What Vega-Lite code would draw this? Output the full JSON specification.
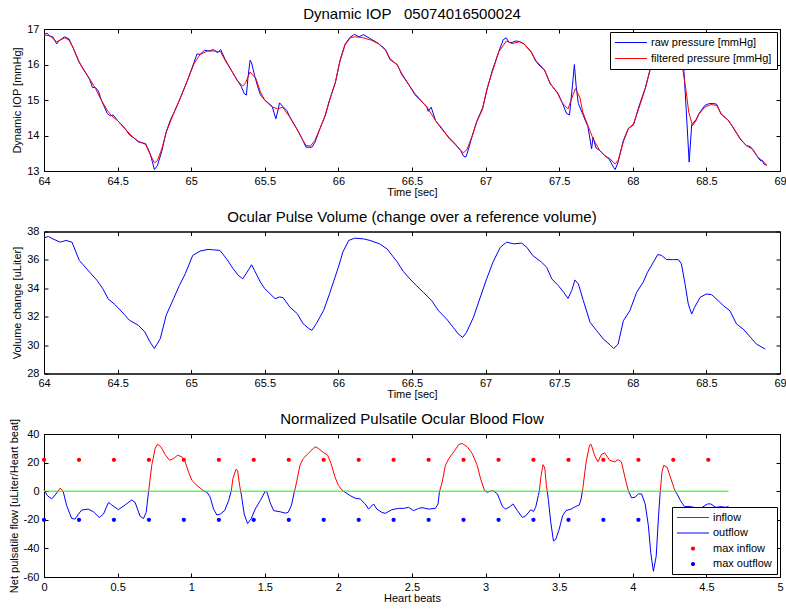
{
"$schema": "https://vega.github.io/schema/vega-lite/v6.json",
"background": "white",
"padding": {"left": 7, "top": 6, "right": 2, "bottom": 2},
"spacing": 60.5,
"bounds": "flush",
"resolve": {"scale": {"color": "independent", "shape": "independent"}},
"config": {
 "font": "Liberation Sans",
 "view": {"stroke": "black"},
 "axis": {"domainColor": "black", "tickColor": "black", "tickSize": -4, "labelColor": "black", "labelFontSize": 11, "titleFontSize": 11, "titleFontWeight": "normal", "titleColor": "black", "grid": false, "labelFont": "Liberation Sans", "titleFont": "Liberation Sans", "labelOverlap": false, "labelFlush": false, "labelExpr": "datum.value < 0 ? '-' + format(-datum.value, '~g') : format(datum.value, '~g')"},
 "axisX": {"labelPadding": 8, "titlePadding": 0},
 "axisY": {"labelPadding": 9, "titlePadding": 4},
 "title": {"fontSize": 15, "fontWeight": "normal", "font": "Liberation Sans", "color": "black", "offset": 1},
 "legend": {"strokeColor": "black", "fillColor": "white", "labelFontSize": 11, "labelFont": "Liberation Sans", "labelColor": "black", "symbolOpacity": 1, "cornerRadius": 0, "labelLimit": 300, "title": null, "symbolSize": 100, "symbolStrokeWidth": 1, "symbolOffset": 10.5, "labelOffset": 14.5}
},
"datasets": {
"raw": [{"t":64.00,"p":16.85},{"t":64.02,"p":16.88},{"t":64.04,"p":16.8},{"t":64.06,"p":16.78},{"t":64.086,"p":16.58},{"t":64.10,"p":16.66},{"t":64.14,"p":16.78},{"t":64.17,"p":16.72},{"t":64.20,"p":16.45},{"t":64.234,"p":16.1},{"t":64.25,"p":15.98},{"t":64.27,"p":15.86},{"t":64.31,"p":15.58},{"t":64.33,"p":15.35},{"t":64.35,"p":15.35},{"t":64.37,"p":15.25},{"t":64.39,"p":14.99},{"t":64.43,"p":14.62},{"t":64.45,"p":14.55},{"t":64.47,"p":14.58},{"t":64.50,"p":14.42},{"t":64.55,"p":14.2},{"t":64.58,"p":14.02},{"t":64.62,"p":13.9},{"t":64.64,"p":13.82},{"t":64.69,"p":13.77},{"t":64.72,"p":13.5},{"t":64.74,"p":13.2},{"t":64.75,"p":13.04},{"t":64.77,"p":13.15},{"t":64.80,"p":13.55},{"t":64.83,"p":14.1},{"t":64.86,"p":14.45},{"t":64.88,"p":14.62},{"t":64.92,"p":15.0},{"t":64.97,"p":15.5},{"t":65.02,"p":16.07},{"t":65.04,"p":16.3},{"t":65.06,"p":16.28},{"t":65.09,"p":16.4},{"t":65.12,"p":16.38},{"t":65.15,"p":16.42},{"t":65.18,"p":16.33},{"t":65.20,"p":16.42},{"t":65.23,"p":16.15},{"t":65.28,"p":15.78},{"t":65.31,"p":15.58},{"t":65.34,"p":15.38},{"t":65.36,"p":15.18},{"t":65.375,"p":15.14},{"t":65.385,"p":15.6},{"t":65.40,"p":16.12},{"t":65.41,"p":16.05},{"t":65.43,"p":15.7},{"t":65.45,"p":15.4},{"t":65.47,"p":15.15},{"t":65.50,"p":15.0},{"t":65.55,"p":14.82},{"t":65.575,"p":14.47},{"t":65.59,"p":14.72},{"t":65.60,"p":14.92},{"t":65.62,"p":14.83},{"t":65.65,"p":14.7},{"t":65.67,"p":14.52},{"t":65.73,"p":14.1},{"t":65.76,"p":13.85},{"t":65.78,"p":13.67},{"t":65.82,"p":13.67},{"t":65.84,"p":13.8},{"t":65.875,"p":14.2},{"t":65.91,"p":14.55},{"t":65.94,"p":15.0},{"t":65.98,"p":15.5},{"t":66.01,"p":16.1},{"t":66.045,"p":16.57},{"t":66.08,"p":16.77},{"t":66.11,"p":16.85},{"t":66.14,"p":16.78},{"t":66.17,"p":16.84},{"t":66.22,"p":16.72},{"t":66.27,"p":16.6},{"t":66.32,"p":16.42},{"t":66.35,"p":16.14},{"t":66.40,"p":16.0},{"t":66.43,"p":15.72},{"t":66.48,"p":15.42},{"t":66.52,"p":15.15},{"t":66.57,"p":14.94},{"t":66.60,"p":14.82},{"t":66.61,"p":14.68},{"t":66.63,"p":14.8},{"t":66.66,"p":14.42},{"t":66.70,"p":14.22},{"t":66.75,"p":13.93},{"t":66.795,"p":13.74},{"t":66.83,"p":13.58},{"t":66.85,"p":13.42},{"t":66.865,"p":13.39},{"t":66.875,"p":13.5},{"t":66.91,"p":14.0},{"t":66.94,"p":14.4},{"t":66.98,"p":14.78},{"t":67.01,"p":15.3},{"t":67.045,"p":15.82},{"t":67.09,"p":16.37},{"t":67.12,"p":16.7},{"t":67.14,"p":16.75},{"t":67.16,"p":16.62},{"t":67.18,"p":16.62},{"t":67.20,"p":16.66},{"t":67.23,"p":16.65},{"t":67.26,"p":16.58},{"t":67.31,"p":16.35},{"t":67.34,"p":16.1},{"t":67.37,"p":15.95},{"t":67.40,"p":15.85},{"t":67.44,"p":15.45},{"t":67.49,"p":15.2},{"t":67.52,"p":14.93},{"t":67.55,"p":14.62},{"t":67.57,"p":14.58},{"t":67.59,"p":15.4},{"t":67.603,"p":16.0},{"t":67.615,"p":15.4},{"t":67.63,"p":14.9},{"t":67.66,"p":14.6},{"t":67.695,"p":14.25},{"t":67.72,"p":13.62},{"t":67.73,"p":13.95},{"t":67.75,"p":13.65},{"t":67.775,"p":13.58},{"t":67.81,"p":13.43},{"t":67.84,"p":13.33},{"t":67.87,"p":13.1},{"t":67.88,"p":13.04},{"t":67.90,"p":13.25},{"t":67.935,"p":13.85},{"t":67.97,"p":14.2},{"t":68.005,"p":14.3},{"t":68.04,"p":14.8},{"t":68.085,"p":15.34},{"t":68.12,"p":15.9},{"t":68.16,"p":16.38},{"t":68.20,"p":16.6},{"t":68.26,"p":16.55},{"t":68.32,"p":16.5},{"t":68.348,"p":15.8},{"t":68.383,"p":13.25},{"t":68.40,"p":14.3},{"t":68.43,"p":14.45},{"t":68.45,"p":14.62},{"t":68.49,"p":14.85},{"t":68.52,"p":14.9},{"t":68.55,"p":14.9},{"t":68.57,"p":14.88},{"t":68.60,"p":14.6},{"t":68.63,"p":14.5},{"t":68.65,"p":14.42},{"t":68.68,"p":14.23},{"t":68.73,"p":13.9},{"t":68.77,"p":13.72},{"t":68.80,"p":13.68},{"t":68.82,"p":13.58},{"t":68.85,"p":13.38},{"t":68.87,"p":13.28},{"t":68.88,"p":13.3},{"t":68.89,"p":13.2},{"t":68.91,"p":13.16}],
"filt": [{"t":64.00,"p":16.83},{"t":64.04,"p":16.81},{"t":64.086,"p":16.64},{"t":64.11,"p":16.69},{"t":64.14,"p":16.75},{"t":64.17,"p":16.69},{"t":64.20,"p":16.45},{"t":64.234,"p":16.12},{"t":64.27,"p":15.84},{"t":64.31,"p":15.6},{"t":64.35,"p":15.32},{"t":64.39,"p":14.99},{"t":64.43,"p":14.71},{"t":64.46,"p":14.55},{"t":64.50,"p":14.42},{"t":64.55,"p":14.19},{"t":64.60,"p":13.97},{"t":64.64,"p":13.84},{"t":64.69,"p":13.75},{"t":64.72,"p":13.48},{"t":64.75,"p":13.23},{"t":64.77,"p":13.29},{"t":64.80,"p":13.62},{"t":64.83,"p":14.09},{"t":64.88,"p":14.61},{"t":64.92,"p":14.99},{"t":64.97,"p":15.51},{"t":65.02,"p":16.03},{"t":65.06,"p":16.28},{"t":65.11,"p":16.38},{"t":65.15,"p":16.38},{"t":65.20,"p":16.36},{"t":65.23,"p":16.12},{"t":65.28,"p":15.79},{"t":65.31,"p":15.56},{"t":65.35,"p":15.39},{"t":65.37,"p":15.49},{"t":65.40,"p":15.79},{"t":65.44,"p":15.6},{"t":65.47,"p":15.23},{"t":65.50,"p":14.99},{"t":65.55,"p":14.8},{"t":65.59,"p":14.75},{"t":65.62,"p":14.8},{"t":65.67,"p":14.52},{"t":65.73,"p":14.09},{"t":65.76,"p":13.86},{"t":65.78,"p":13.72},{"t":65.81,"p":13.7},{"t":65.84,"p":13.86},{"t":65.875,"p":14.19},{"t":65.91,"p":14.57},{"t":65.94,"p":14.99},{"t":65.98,"p":15.51},{"t":66.01,"p":16.08},{"t":66.045,"p":16.55},{"t":66.08,"p":16.75},{"t":66.11,"p":16.78},{"t":66.16,"p":16.76},{"t":66.22,"p":16.69},{"t":66.27,"p":16.59},{"t":66.32,"p":16.41},{"t":66.35,"p":16.17},{"t":66.40,"p":15.98},{"t":66.43,"p":15.75},{"t":66.48,"p":15.42},{"t":66.52,"p":15.18},{"t":66.57,"p":14.94},{"t":66.61,"p":14.75},{"t":66.66,"p":14.42},{"t":66.70,"p":14.19},{"t":66.75,"p":13.95},{"t":66.795,"p":13.76},{"t":66.83,"p":13.58},{"t":66.85,"p":13.51},{"t":66.875,"p":13.62},{"t":66.91,"p":14.0},{"t":66.94,"p":14.38},{"t":66.98,"p":14.75},{"t":67.01,"p":15.32},{"t":67.045,"p":15.79},{"t":67.09,"p":16.36},{"t":67.14,"p":16.66},{"t":67.18,"p":16.59},{"t":67.23,"p":16.64},{"t":67.26,"p":16.59},{"t":67.31,"p":16.36},{"t":67.34,"p":16.12},{"t":67.40,"p":15.84},{"t":67.44,"p":15.46},{"t":67.49,"p":15.18},{"t":67.52,"p":14.92},{"t":67.56,"p":14.75},{"t":67.58,"p":14.99},{"t":67.61,"p":15.32},{"t":67.64,"p":15.08},{"t":67.66,"p":14.66},{"t":67.695,"p":14.28},{"t":67.73,"p":13.91},{"t":67.775,"p":13.58},{"t":67.81,"p":13.43},{"t":67.84,"p":13.36},{"t":67.88,"p":13.2},{"t":67.90,"p":13.29},{"t":67.935,"p":13.81},{"t":67.97,"p":14.19},{"t":68.005,"p":14.33},{"t":68.04,"p":14.75},{"t":68.085,"p":15.32},{"t":68.12,"p":15.89},{"t":68.16,"p":16.35},{"t":68.20,"p":16.55},{"t":68.26,"p":16.5},{"t":68.31,"p":16.45},{"t":68.337,"p":15.93},{"t":68.36,"p":15.32},{"t":68.38,"p":14.66},{"t":68.405,"p":14.28},{"t":68.43,"p":14.42},{"t":68.45,"p":14.61},{"t":68.49,"p":14.8},{"t":68.53,"p":14.87},{"t":68.57,"p":14.85},{"t":68.60,"p":14.61},{"t":68.65,"p":14.42},{"t":68.68,"p":14.24},{"t":68.73,"p":13.91},{"t":68.77,"p":13.72},{"t":68.81,"p":13.62},{"t":68.85,"p":13.39},{"t":68.89,"p":13.25},{"t":68.91,"p":13.17}],
"vol": [{"t":64.00,"v":37.55},{"t":64.03,"v":37.65},{"t":64.06,"v":37.48},{"t":64.11,"v":37.25},{"t":64.15,"v":37.37},{"t":64.19,"v":37.25},{"t":64.24,"v":35.96},{"t":64.31,"v":35.14},{"t":64.36,"v":34.56},{"t":64.40,"v":33.97},{"t":64.435,"v":33.27},{"t":64.48,"v":32.87},{"t":64.53,"v":32.33},{"t":64.58,"v":31.75},{"t":64.64,"v":31.4},{"t":64.685,"v":30.93},{"t":64.72,"v":30.22},{"t":64.75,"v":29.76},{"t":64.79,"v":30.46},{"t":64.83,"v":32.1},{"t":64.88,"v":33.27},{"t":64.92,"v":34.21},{"t":64.96,"v":35.03},{"t":65.01,"v":36.31},{"t":65.06,"v":36.62},{"t":65.115,"v":36.74},{"t":65.15,"v":36.71},{"t":65.195,"v":36.67},{"t":65.24,"v":36.08},{"t":65.285,"v":35.38},{"t":65.32,"v":34.91},{"t":65.35,"v":34.67},{"t":65.39,"v":35.3},{"t":65.41,"v":35.66},{"t":65.43,"v":35.26},{"t":65.47,"v":34.44},{"t":65.50,"v":33.97},{"t":65.535,"v":33.62},{"t":65.57,"v":33.27},{"t":65.60,"v":33.39},{"t":65.625,"v":33.34},{"t":65.67,"v":32.68},{"t":65.72,"v":32.22},{"t":65.76,"v":31.51},{"t":65.80,"v":31.16},{"t":65.82,"v":31.04},{"t":65.85,"v":31.51},{"t":65.90,"v":32.45},{"t":65.94,"v":33.62},{"t":65.97,"v":34.56},{"t":66.00,"v":35.49},{"t":66.03,"v":36.55},{"t":66.07,"v":37.37},{"t":66.11,"v":37.53},{"t":66.17,"v":37.48},{"t":66.215,"v":37.37},{"t":66.28,"v":37.13},{"t":66.33,"v":36.78},{"t":66.37,"v":36.25},{"t":66.40,"v":35.85},{"t":66.44,"v":35.2},{"t":66.486,"v":34.66},{"t":66.53,"v":34.19},{"t":66.577,"v":33.72},{"t":66.634,"v":33.13},{"t":66.68,"v":32.42},{"t":66.735,"v":31.84},{"t":66.78,"v":31.25},{"t":66.815,"v":30.78},{"t":66.844,"v":30.54},{"t":66.87,"v":30.89},{"t":66.917,"v":31.95},{"t":66.96,"v":33.25},{"t":67.007,"v":34.66},{"t":67.05,"v":35.84},{"t":67.10,"v":36.89},{"t":67.143,"v":37.25},{"t":67.19,"v":37.13},{"t":67.245,"v":37.18},{"t":67.28,"v":36.89},{"t":67.32,"v":36.31},{"t":67.38,"v":35.84},{"t":67.415,"v":35.48},{"t":67.45,"v":34.66},{"t":67.494,"v":34.19},{"t":67.53,"v":33.72},{"t":67.56,"v":33.29},{"t":67.585,"v":33.84},{"t":67.607,"v":34.59},{"t":67.63,"v":34.31},{"t":67.664,"v":33.13},{"t":67.71,"v":31.6},{"t":67.755,"v":31.01},{"t":67.80,"v":30.42},{"t":67.845,"v":30.02},{"t":67.87,"v":29.76},{"t":67.90,"v":30.07},{"t":67.936,"v":31.72},{"t":67.98,"v":32.42},{"t":68.026,"v":33.72},{"t":68.07,"v":34.42},{"t":68.10,"v":35.13},{"t":68.14,"v":35.84},{"t":68.17,"v":36.38},{"t":68.196,"v":36.31},{"t":68.23,"v":36.02},{"t":68.275,"v":36.02},{"t":68.31,"v":36.02},{"t":68.33,"v":35.72},{"t":68.355,"v":34.31},{"t":68.377,"v":32.89},{"t":68.40,"v":32.19},{"t":68.42,"v":32.66},{"t":68.457,"v":33.36},{"t":68.50,"v":33.6},{"t":68.536,"v":33.55},{"t":68.58,"v":33.13},{"t":68.615,"v":32.78},{"t":68.66,"v":32.42},{"t":68.705,"v":31.48},{"t":68.75,"v":31.13},{"t":68.80,"v":30.54},{"t":68.84,"v":30.07},{"t":68.90,"v":29.72}],
"flow": [{"b":0,"i":1.2,"o":null},{"b":0.006,"i":0,"o":0},{"b":0.023,"i":null,"o":-3.1},{"b":0.052,"i":null,"o":-5.4},{"b":0.082,"i":null,"o":-1.9},{"b":0.095,"i":0,"o":0},{"b":0.109,"i":2.1,"o":null},{"b":0.127,"i":0.5,"o":null},{"b":0.13,"i":0,"o":0},{"b":0.154,"i":null,"o":-10.1},{"b":0.188,"i":null,"o":-19.1},{"b":0.211,"i":null,"o":-19.5},{"b":0.234,"i":null,"o":-16},{"b":0.256,"i":null,"o":-13.2},{"b":0.3,"i":null,"o":-12.5},{"b":0.336,"i":null,"o":-14.4},{"b":0.376,"i":null,"o":-18.4},{"b":0.404,"i":null,"o":-16},{"b":0.438,"i":null,"o":-7.8},{"b":0.46,"i":null,"o":-9.6},{"b":0.506,"i":null,"o":-12.9},{"b":0.551,"i":null,"o":-9.6},{"b":0.596,"i":null,"o":-6.1},{"b":0.619,"i":null,"o":-7.8},{"b":0.653,"i":null,"o":-17.6},{"b":0.676,"i":null,"o":-19.1},{"b":0.694,"i":null,"o":-14.8},{"b":0.71,"i":null,"o":-0.7},{"b":0.711,"i":0,"o":0},{"b":0.732,"i":18.1,"o":null},{"b":0.755,"i":29.9,"o":null},{"b":0.771,"i":32.9,"o":null},{"b":0.794,"i":31.1,"o":null},{"b":0.823,"i":25.6,"o":null},{"b":0.853,"i":21.6,"o":null},{"b":0.88,"i":22.8,"o":null},{"b":0.907,"i":25.2,"o":null},{"b":0.937,"i":24,"o":null},{"b":0.959,"i":20.5,"o":null},{"b":0.982,"i":13.4,"o":null},{"b":1.005,"i":7.5,"o":null},{"b":1.039,"i":4,"o":null},{"b":1.073,"i":1.2,"o":null},{"b":1.088,"i":0,"o":0},{"b":1.107,"i":null,"o":-0.7},{"b":1.129,"i":null,"o":-4.2},{"b":1.152,"i":null,"o":-12.5},{"b":1.175,"i":null,"o":-16.7},{"b":1.197,"i":null,"o":-16},{"b":1.227,"i":null,"o":-13.6},{"b":1.254,"i":null,"o":-6.6},{"b":1.27,"i":null,"o":-0.7},{"b":1.272,"i":0,"o":0},{"b":1.283,"i":8.7,"o":null},{"b":1.304,"i":15.3,"o":null},{"b":1.315,"i":14.6,"o":null},{"b":1.329,"i":4,"o":null},{"b":1.336,"i":0,"o":0},{"b":1.34,"i":null,"o":-1.9},{"b":1.36,"i":null,"o":-16},{"b":1.383,"i":null,"o":-22.6},{"b":1.406,"i":null,"o":-19.5},{"b":1.435,"i":null,"o":-12.5},{"b":1.469,"i":null,"o":-6.6},{"b":1.503,"i":0,"o":0},{"b":1.515,"i":null,"o":-0.7},{"b":1.537,"i":null,"o":-8.2},{"b":1.56,"i":null,"o":-13.6},{"b":1.605,"i":null,"o":-14.4},{"b":1.64,"i":null,"o":-15.3},{"b":1.659,"i":null,"o":-14.8},{"b":1.682,"i":null,"o":-9.6},{"b":1.7,"i":null,"o":-0.7},{"b":1.702,"i":0,"o":0},{"b":1.716,"i":6.4,"o":null},{"b":1.739,"i":18.1,"o":null},{"b":1.761,"i":22.8,"o":null},{"b":1.795,"i":26.4,"o":null},{"b":1.841,"i":31.1,"o":null},{"b":1.864,"i":29.9,"o":null},{"b":1.898,"i":27.1,"o":null},{"b":1.927,"i":25.2,"o":null},{"b":1.95,"i":19.3,"o":null},{"b":1.977,"i":9.9,"o":null},{"b":2.0,"i":4,"o":null},{"b":2.027,"i":0.5,"o":null},{"b":2.035,"i":0,"o":0},{"b":2.045,"i":null,"o":-0.7},{"b":2.08,"i":null,"o":-3.1},{"b":2.114,"i":null,"o":-4.9},{"b":2.148,"i":null,"o":-5.4},{"b":2.182,"i":null,"o":-8.9},{"b":2.205,"i":null,"o":-12.5},{"b":2.239,"i":null,"o":-8.9},{"b":2.261,"i":null,"o":-12.5},{"b":2.295,"i":null,"o":-14.8},{"b":2.318,"i":null,"o":-15.5},{"b":2.364,"i":null,"o":-12.9},{"b":2.409,"i":null,"o":-12},{"b":2.443,"i":null,"o":-12},{"b":2.477,"i":null,"o":-11.3},{"b":2.511,"i":null,"o":-13.6},{"b":2.545,"i":null,"o":-12},{"b":2.568,"i":null,"o":-11.5},{"b":2.614,"i":null,"o":-12.5},{"b":2.659,"i":null,"o":-12},{"b":2.677,"i":null,"o":-8.9},{"b":2.686,"i":null,"o":-0.7},{"b":2.688,"i":0,"o":0},{"b":2.705,"i":6.4,"o":null},{"b":2.727,"i":18.1,"o":null},{"b":2.75,"i":22.8,"o":null},{"b":2.784,"i":27.5,"o":null},{"b":2.818,"i":32.7,"o":null},{"b":2.841,"i":33.4,"o":null},{"b":2.875,"i":31.1,"o":null},{"b":2.909,"i":26.4,"o":null},{"b":2.943,"i":18.1,"o":null},{"b":2.966,"i":8.7,"o":null},{"b":2.989,"i":1.6,"o":null},{"b":2.997,"i":0,"o":0},{"b":3.011,"i":null,"o":-0.7},{"b":3.027,"i":null,"o":-0.2},{"b":3.033,"i":0,"o":0},{"b":3.04,"i":0.3,"o":null},{"b":3.057,"i":0,"o":0},{"b":3.08,"i":null,"o":-1.9},{"b":3.114,"i":null,"o":-10.6},{"b":3.136,"i":null,"o":-12.5},{"b":3.159,"i":null,"o":-11.3},{"b":3.186,"i":null,"o":-8.9},{"b":3.216,"i":null,"o":-13.6},{"b":3.25,"i":null,"o":-18.4},{"b":3.273,"i":null,"o":-17.2},{"b":3.307,"i":null,"o":-12.9},{"b":3.325,"i":null,"o":-14.2},{"b":3.34,"i":null,"o":-11.3},{"b":3.358,"i":null,"o":-3.1},{"b":3.365,"i":0,"o":0},{"b":3.374,"i":8.7,"o":null},{"b":3.39,"i":18.6,"o":null},{"b":3.402,"i":16.2,"o":null},{"b":3.413,"i":4,"o":null},{"b":3.419,"i":0,"o":0},{"b":3.427,"i":null,"o":-6.6},{"b":3.443,"i":null,"o":-21.9},{"b":3.461,"i":null,"o":-34.8},{"b":3.477,"i":null,"o":-33.6},{"b":3.5,"i":null,"o":-26.6},{"b":3.523,"i":null,"o":-17.2},{"b":3.546,"i":null,"o":-13.6},{"b":3.58,"i":null,"o":-12.5},{"b":3.614,"i":null,"o":-10.6},{"b":3.637,"i":null,"o":-9.6},{"b":3.649,"i":null,"o":-5.4},{"b":3.657,"i":0,"o":0},{"b":3.66,"i":1.6,"o":null},{"b":3.683,"i":20.5,"o":null},{"b":3.706,"i":32.2,"o":null},{"b":3.717,"i":32.7,"o":null},{"b":3.74,"i":25.2,"o":null},{"b":3.763,"i":20.5,"o":null},{"b":3.786,"i":25.6,"o":null},{"b":3.809,"i":26.8,"o":null},{"b":3.843,"i":21.6,"o":null},{"b":3.878,"i":20.5,"o":null},{"b":3.9,"i":22.1,"o":null},{"b":3.923,"i":20.5,"o":null},{"b":3.946,"i":9.9,"o":null},{"b":3.969,"i":0.5,"o":null},{"b":3.971,"i":0,"o":0},{"b":3.992,"i":null,"o":-4.7},{"b":4.015,"i":null,"o":-4.2},{"b":4.038,"i":null,"o":-1.9},{"b":4.06,"i":null,"o":-1.9},{"b":4.084,"i":null,"o":-8.9},{"b":4.106,"i":null,"o":-24.2},{"b":4.122,"i":null,"o":-43.1},{"b":4.14,"i":null,"o":-56},{"b":4.159,"i":null,"o":-45.4},{"b":4.175,"i":null,"o":-17.2},{"b":4.186,"i":null,"o":-0.7},{"b":4.187,"i":0,"o":0},{"b":4.198,"i":13.4,"o":null},{"b":4.21,"i":18.1,"o":null},{"b":4.232,"i":16.9,"o":null},{"b":4.255,"i":9.9,"o":null},{"b":4.278,"i":2.8,"o":null},{"b":4.288,"i":0,"o":0},{"b":4.3,"i":null,"o":-1.9},{"b":4.324,"i":null,"o":-6.6},{"b":4.351,"i":null,"o":-10.8},{"b":4.381,"i":null,"o":-10.6},{"b":4.415,"i":null,"o":-11.3},{"b":4.461,"i":null,"o":-12},{"b":4.507,"i":null,"o":-8.9},{"b":4.53,"i":null,"o":-8.9},{"b":4.564,"i":null,"o":-11.3},{"b":4.6,"i":null,"o":-10.8},{"b":4.633,"i":null,"o":-11.3},{"b":4.65,"i":null,"o":-10.6}],
"zero": [{"b":0,"z":0},{"b":4.65,"z":0}],
"maxin": [{"b":0,"m":22},{"b":0.238,"m":22},{"b":0.475,"m":22},{"b":0.713,"m":22},{"b":0.95,"m":22},{"b":1.188,"m":22},{"b":1.425,"m":22},{"b":1.663,"m":22},{"b":1.9,"m":22},{"b":2.138,"m":22},{"b":2.375,"m":22},{"b":2.613,"m":22},{"b":2.85,"m":22},{"b":3.088,"m":22},{"b":3.325,"m":22},{"b":3.563,"m":22},{"b":3.8,"m":22},{"b":4.038,"m":22},{"b":4.275,"m":22},{"b":4.513,"m":22}],
"maxout": [{"b":0,"m":-20},{"b":0.238,"m":-20},{"b":0.475,"m":-20},{"b":0.713,"m":-20},{"b":0.95,"m":-20},{"b":1.188,"m":-20},{"b":1.425,"m":-20},{"b":1.663,"m":-20},{"b":1.9,"m":-20},{"b":2.138,"m":-20},{"b":2.375,"m":-20},{"b":2.613,"m":-20},{"b":2.85,"m":-20},{"b":3.088,"m":-20},{"b":3.325,"m":-20},{"b":3.563,"m":-20},{"b":3.8,"m":-20},{"b":4.038,"m":-20}]
},
"vconcat": [
{
 "title": "Dynamic IOP\u00a0\u00a0\u00a005074016500024",
 "width": 736, "height": 142,
 "resolve": {"axis": {"x": "independent", "y": "independent"}},
 "layer": [
  {"data": {"name": "raw"}, "mark": {"type": "line", "strokeWidth": 1},
   "encoding": {
    "x": {"field": "t", "type": "quantitative", "scale": {"domain": [64, 69], "nice": false, "zero": false}, "axis": {"title": "Time [sec]", "values": [64,64.5,65,65.5,66,66.5,67,67.5,68,68.5,69]}},
    "y": {"field": "p", "type": "quantitative", "scale": {"domain": [13, 17], "nice": false, "zero": false}, "axis": {"title": "Dynamic IOP [mmHg]", "values": [13,14,15,16,17]}},
    "color": {"datum": "raw pressure [mmHg]", "type": "nominal", "scale": {"domain": ["raw pressure [mmHg]", "filtered pressure [mmHg]"], "range": ["#0000ff", "#ff0000"]},
      "legend": {"orient": "top-right", "offset": 3, "symbolType": "M-3.2,0H3.2", "padding": 5, "rowPadding": 4}}
   }},
  {"data": {"name": "filt"}, "mark": {"type": "line", "strokeWidth": 1},
   "encoding": {
    "x": {"field": "t", "type": "quantitative", "axis": {"orient": "top", "labels": false, "title": null, "values": [64,64.5,65,65.5,66,66.5,67,67.5,68,68.5,69]}},
    "y": {"field": "p", "type": "quantitative", "axis": {"orient": "right", "labels": false, "title": null, "values": [13,14,15,16,17]}},
    "color": {"datum": "filtered pressure [mmHg]", "type": "nominal"}
   }}
 ]
},
{
 "title": "Ocular Pulse Volume (change over a reference volume)",
 "width": 736, "height": 142,
 "resolve": {"axis": {"x": "independent", "y": "independent"}},
 "layer": [
  {"data": {"name": "vol"}, "mark": {"type": "line", "strokeWidth": 1, "color": "#0000ff"},
   "encoding": {
    "x": {"field": "t", "type": "quantitative", "scale": {"domain": [64, 69], "nice": false, "zero": false}, "axis": {"title": "Time [sec]", "values": [64,64.5,65,65.5,66,66.5,67,67.5,68,68.5,69]}},
    "y": {"field": "v", "type": "quantitative", "scale": {"domain": [28, 38], "nice": false, "zero": false}, "axis": {"title": "Volume change [uLiter]", "values": [28,30,32,34,36,38]}}
   }},
  {"data": {"name": "vol"}, "mark": {"type": "line", "strokeWidth": 1, "color": "#0000ff", "opacity": 0},
   "encoding": {
    "x": {"field": "t", "type": "quantitative", "axis": {"orient": "top", "labels": false, "title": null, "values": [64,64.5,65,65.5,66,66.5,67,67.5,68,68.5,69]}},
    "y": {"field": "v", "type": "quantitative", "axis": {"orient": "right", "labels": false, "title": null, "values": [28,30,32,34,36,38]}}
   }}
 ]
},
{
 "title": {"text": "Normalized Pulsatile Ocular Blood Flow", "offset": -9},
 "width": 736, "height": 143,
 "resolve": {"axis": {"x": "independent", "y": "independent"}},
 "layer": [
  {"data": {"name": "flow"}, "mark": {"type": "line", "strokeWidth": 1, "invalid": "break-paths-show-domains"},
   "encoding": {
    "x": {"field": "b", "type": "quantitative", "scale": {"domain": [0, 5], "nice": false, "zero": false}, "axis": {"title": "Heart beats", "values": [0,0.5,1,1.5,2,2.5,3,3.5,4,4.5,5]}},
    "y": {"field": "i", "type": "quantitative", "scale": {"domain": [-60, 40], "nice": false, "zero": false}, "axis": {"title": "Net pulsatile flow [uLiter/Heart beat]", "values": [-60,-40,-20,0,20,40]}},
    "color": {"datum": "inflow", "type": "nominal", "scale": {"domain": ["inflow", "outflow", "max inflow", "max outflow"], "range": ["#ff0000", "#0000ff", "#ff0000", "#0000ff"]},
      "legend": {"orient": "bottom-right", "offset": 3, "padding": 5, "rowPadding": 3.5, "symbolStrokeWidth": 0}}
   }},
  {"data": {"name": "flow"}, "mark": {"type": "line", "strokeWidth": 1, "invalid": "break-paths-show-domains"},
   "encoding": {
    "x": {"field": "b", "type": "quantitative", "axis": null},
    "y": {"field": "o", "type": "quantitative", "axis": null},
    "color": {"datum": "outflow", "type": "nominal"}
   }},
  {"data": {"name": "zero"}, "mark": {"type": "line", "strokeWidth": 1, "color": "#00ff00"},
   "encoding": {
    "x": {"field": "b", "type": "quantitative", "axis": {"orient": "top", "labels": false, "title": null, "values": [0,0.5,1,1.5,2,2.5,3,3.5,4,4.5,5]}},
    "y": {"field": "z", "type": "quantitative", "axis": {"orient": "right", "labels": false, "title": null, "values": [-60,-40,-20,0,20,40]}}
   }},
  {"data": {"name": "maxin"}, "mark": {"type": "point", "filled": true, "opacity": 1, "size": 100, "strokeWidth": 0},
   "encoding": {
    "x": {"field": "b", "type": "quantitative", "axis": null},
    "y": {"field": "m", "type": "quantitative", "axis": null},
    "color": {"datum": "max inflow", "type": "nominal"},
    "shape": {"datum": "max inflow", "type": "nominal", "scale": {"domain": ["inflow", "outflow", "max inflow", "max outflow"], "range": ["M-3.2,-0.1H3.2V0.1H-3.2Z", "M-3.2,-0.1H3.2V0.1H-3.2Z", "M-0.42,0A0.42,0.42,0,1,1,0.42,0A0.42,0.42,0,1,1,-0.42,0Z", "M-0.42,0A0.42,0.42,0,1,1,0.42,0A0.42,0.42,0,1,1,-0.42,0Z"]}}
   }},
  {"data": {"name": "maxout"}, "mark": {"type": "point", "filled": true, "opacity": 1, "size": 100, "strokeWidth": 0},
   "encoding": {
    "x": {"field": "b", "type": "quantitative", "axis": null},
    "y": {"field": "m", "type": "quantitative", "axis": null},
    "color": {"datum": "max outflow", "type": "nominal"},
    "shape": {"datum": "max outflow", "type": "nominal"}
   }}
 ]
}
]
}
